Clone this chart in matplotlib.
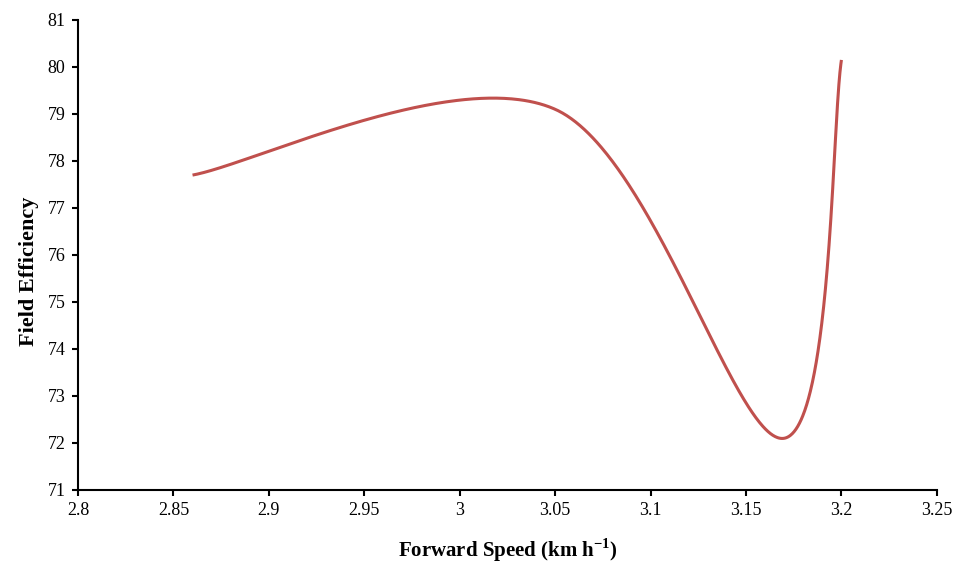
import numpy as np
import matplotlib
matplotlib.use("Agg")
import matplotlib.pyplot as plt

# Data points (Excel smoothed line)
speed = [2.86, 3.05, 3.17, 3.20]
efficiency = [77.7, 79.1, 72.1, 80.15]

x_ticks = [2.8, 2.85, 2.9, 2.95, 3.0, 3.05, 3.1, 3.15, 3.2, 3.25]
x_tick_labels = ["2.8", "2.85", "2.9", "2.95", "3", "3.05", "3.1", "3.15", "3.2", "3.25"]
y_ticks = list(range(71, 82))


def excel_smooth(xs, ys, n=200):
    P = np.column_stack([xs, ys]).astype(float)
    m = len(P)
    out = []
    for i in range(m - 1):
        p0 = P[i - 1] if i > 0 else P[i]
        p1 = P[i]
        p2 = P[i + 1]
        p3 = P[i + 2] if i + 2 < m else P[i + 1]
        c1 = p1 + (p2 - p0) / 6.0
        c2 = p2 - (p3 - p1) / 6.0
        t = np.linspace(0, 1, n)[:, None]
        seg = ((1 - t) ** 3) * p1 + 3 * ((1 - t) ** 2) * t * c1 + 3 * (1 - t) * t ** 2 * c2 + t ** 3 * p2
        out.append(seg if i == 0 else seg[1:])
    s = np.vstack(out)
    return s[:, 0], s[:, 1]


plt.rcParams['font.family'] = ['Liberation Serif', 'DejaVu Serif']
plt.rcParams['mathtext.fontset'] = 'custom'
plt.rcParams['mathtext.rm'] = 'Liberation Serif'
plt.rcParams['mathtext.bf'] = 'Liberation Serif:bold'

fig = plt.figure(figsize=(9.55, 5.63), dpi=100)
ax = fig.add_axes([0.0817, 0.1297, 0.8993, 0.8348])

sx, sy = excel_smooth(speed, efficiency)
ax.plot(sx, sy, color="#C0504D", lw=2.2, solid_capstyle="butt")

ax.set_xlim(2.8, 3.25)
ax.set_ylim(71, 81)
ax.set_xticks(x_ticks)
ax.set_xticklabels(x_tick_labels)
ax.set_yticks(y_ticks)

for s in ["top", "right"]:
    ax.spines[s].set_visible(False)
for s in ["left", "bottom"]:
    ax.spines[s].set_linewidth(1.5)
    ax.spines[s].set_color("black")

ax.tick_params(axis="both", direction="out", length=4, width=1.5, labelsize=13, colors="black", pad=5)

ax.set_xlabel("Forward Speed (km h$^{\\mathbf{-1}}$)", fontsize=15, fontweight="bold", labelpad=12)
ax.set_ylabel("Field Efficiency", fontsize=16, fontweight="bold", labelpad=6)
ax.yaxis.label.set_y(0.465)

fig.savefig("out.png", dpi=100)
